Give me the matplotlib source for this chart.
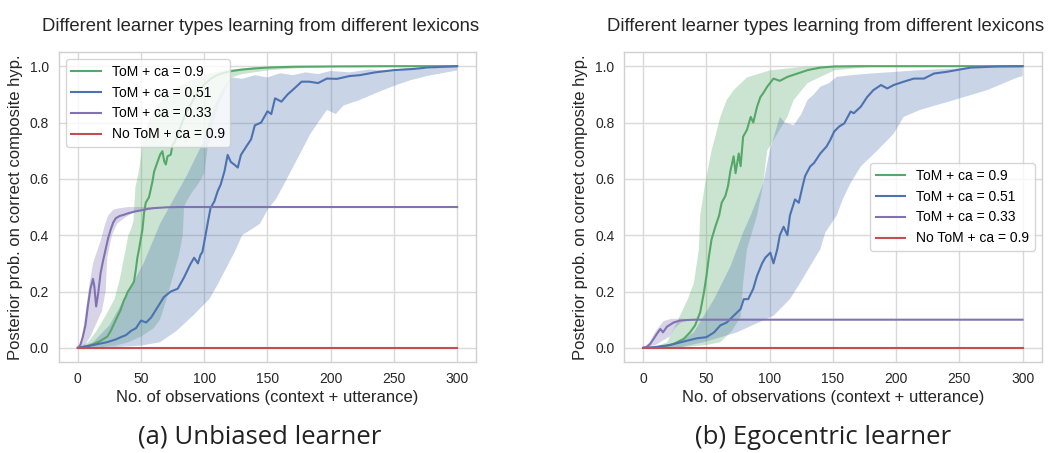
import numpy as np
import matplotlib
matplotlib.use("Agg")
import matplotlib.pyplot as plt

# ---------------------------------------------------------------
# Data: posterior probability on the correct composite hypothesis
# (mean and spread) against number of observations
# ---------------------------------------------------------------
labels = ["ToM + ca = 0.9", "ToM + ca = 0.51", "ToM + ca = 0.33", "No ToM + ca = 0.9"]

# ---- (a) Unbiased learner ----
a_green_x = [0, 4, 8, 12.7, 18, 23.3, 26, 28.6, 31.2, 33.9, 36.5, 37.8, 39.2, 41.8, 44.4, 45.8, 47.1,
             48.4, 51.1, 52.4, 53.7, 56.3, 59.0, 60.3, 63.0, 65.1, 66.9, 68.3, 69.6, 70.9, 73.5,
             74.9, 76.2, 80, 85, 90, 95, 100, 105, 110, 115, 122, 130, 140, 150, 170, 200, 250, 300]
a_green_y = [0, 0.002, 0.006, 0.014, 0.025, 0.040, 0.06, 0.085, 0.11, 0.135, 0.17, 0.18, 0.197, 0.215,
             0.235, 0.275, 0.32, 0.35, 0.42, 0.48, 0.515, 0.535, 0.59, 0.625, 0.66, 0.686, 0.698,
             0.663, 0.651, 0.68, 0.686, 0.721, 0.727, 0.77, 0.83, 0.87, 0.91, 0.935, 0.955, 0.968,
             0.976, 0.983, 0.988, 0.992, 0.995, 0.998, 0.999, 1.0, 1.0]
a_green_up_x = [0, 8, 14, 22, 29, 33, 37, 40, 42, 44, 45.5, 48, 50, 52, 56, 60, 65, 70, 77, 85, 95,
                105, 120, 140, 170, 300]
a_green_up_y = [0, 0.02, 0.055, 0.114, 0.173, 0.24, 0.33, 0.40, 0.42, 0.45, 0.57, 0.62, 0.68, 0.75,
                0.80, 0.84, 0.87, 0.895, 0.92, 0.94, 0.96, 0.975, 0.988, 0.996, 1.0, 1.0]
a_green_lo_x = [0, 20, 30, 40, 50, 60, 65, 70, 75, 80, 83, 84, 86, 90, 95, 100, 103, 107, 112, 118,
                122, 130, 150, 175, 200, 250, 300]
a_green_lo_y = [0, 0.003, 0.008, 0.02, 0.04, 0.07, 0.10, 0.17, 0.25, 0.33, 0.40, 0.50, 0.52, 0.55,
                0.58, 0.62, 0.72, 0.80, 0.87, 0.93, 0.96, 0.972, 0.985, 0.993, 0.997, 0.999, 1.0]

a_blue_x = [0, 5, 12, 23, 30, 34, 38, 42, 46, 50, 54, 58, 63, 68, 73.5, 79, 84, 89, 92, 95, 97,
            98.5, 101, 103, 105, 108, 110.6, 113, 116, 118.5, 121, 124, 126.5, 129, 134, 137, 140,
            145, 150, 153, 156, 161, 166, 171, 177, 183, 190, 197, 205, 215, 223, 235, 250, 265,
            276, 290, 300]
a_blue_y = [0, 0.004, 0.01, 0.02, 0.03, 0.038, 0.045, 0.06, 0.07, 0.097, 0.09, 0.108, 0.144, 0.18,
            0.2, 0.21, 0.25, 0.297, 0.32, 0.30, 0.33, 0.34, 0.40, 0.45, 0.497, 0.52, 0.556, 0.58,
            0.627, 0.685, 0.66, 0.65, 0.64, 0.685, 0.72, 0.74, 0.79, 0.80, 0.84, 0.83, 0.886, 0.874,
            0.90, 0.92, 0.945, 0.945, 0.94, 0.956, 0.955, 0.965, 0.968, 0.978, 0.986, 0.99, 0.995,
            0.998, 1.0]
a_blue_up_x = [0, 12, 25, 38, 52, 65, 76, 86, 99, 105, 110, 116, 122, 130, 140, 150, 160, 170, 180,
               190, 200, 215, 230, 245, 260, 275, 290, 300]
a_blue_up_y = [0, 0.02, 0.08, 0.185, 0.30, 0.44, 0.53, 0.61, 0.73, 0.82, 0.88, 0.93, 0.96, 0.955,
               0.968, 0.96, 0.975, 0.968, 0.978, 0.972, 0.983, 0.978, 0.988, 0.985, 0.993, 0.99,
               0.997, 1.0]
a_blue_lo_x = [0, 30, 50, 65, 78, 91, 104, 110, 117, 124, 130, 137, 144, 150, 157, 163, 170, 177,
               184, 190, 197, 204, 210, 223, 236, 250, 263, 276, 288, 300]
a_blue_lo_y = [0, 0.003, 0.008, 0.02, 0.06, 0.114, 0.173, 0.22, 0.28, 0.34, 0.40, 0.42, 0.44, 0.49,
               0.53, 0.58, 0.64, 0.70, 0.76, 0.80, 0.845, 0.83, 0.86, 0.88, 0.905, 0.93, 0.95,
               0.965, 0.975, 0.985]

a_purple_x = [0, 2, 4, 6, 8, 10, 12, 13, 14.5, 16, 18, 20, 22, 24, 26, 28, 30, 33, 36, 40, 45, 50,
              55, 60, 70, 80, 100, 300]
a_purple_y = [0, 0.01, 0.04, 0.08, 0.15, 0.21, 0.245, 0.22, 0.147, 0.19, 0.265, 0.31, 0.35, 0.39,
              0.42, 0.445, 0.46, 0.468, 0.472, 0.478, 0.484, 0.488, 0.493, 0.496, 0.499, 0.5, 0.5, 0.5]
a_purple_up_x = [0, 3, 6, 9, 12, 15, 18, 21, 24, 28, 32, 40, 60, 300]
a_purple_up_y = [0, 0.03, 0.12, 0.22, 0.30, 0.34, 0.38, 0.43, 0.47, 0.49, 0.495, 0.5, 0.5, 0.5]
a_purple_lo_x = [0, 5, 10, 15, 19, 22, 23.3, 27, 31, 36.5, 42, 50, 60, 80, 300]
a_purple_lo_y = [0, 0.005, 0.04, 0.09, 0.13, 0.20, 0.32, 0.40, 0.44, 0.46, 0.475, 0.49, 0.497, 0.5, 0.5]

a_red_x = [0, 300]
a_red_y = [0.0, 0.0]

# ---- (b) Egocentric learner ----
b_green_x = [0, 8, 16, 24, 32, 37, 41, 45, 48, 50, 52, 54, 57, 60, 62, 65, 67, 69, 71.5, 73, 75.5,
             77, 79, 82, 85, 87, 90, 92.6, 95, 98, 103, 108, 114, 122, 130, 140, 151, 170, 200, 300]
b_green_y = [0, 0.001, 0.005, 0.014, 0.032, 0.055, 0.08, 0.126, 0.197, 0.256, 0.326, 0.385, 0.43,
             0.47, 0.515, 0.54, 0.574, 0.63, 0.68, 0.62, 0.69, 0.645, 0.75, 0.774, 0.82, 0.80,
             0.856, 0.89, 0.905, 0.927, 0.956, 0.948, 0.962, 0.974, 0.986, 0.995, 0.999, 1.0, 1.0, 1.0]
b_green_up_x = [0, 10, 19, 29, 35, 40, 44, 45, 49, 54, 61, 66, 71.5, 82, 100, 127, 150, 300]
b_green_up_y = [0, 0.005, 0.02, 0.114, 0.17, 0.23, 0.35, 0.47, 0.585, 0.70, 0.82, 0.88, 0.915, 0.96,
                0.985, 0.998, 1.0, 1.0]
b_green_lo_x = [0, 30, 50, 61, 70, 77, 79, 82, 90, 95, 98, 106, 114, 119, 130, 151, 180, 300]
b_green_lo_y = [0, 0.002, 0.01, 0.02, 0.06, 0.11, 0.23, 0.35, 0.47, 0.585, 0.70, 0.76, 0.82, 0.88,
                0.94, 0.985, 0.998, 1.0]

b_blue_x = [0, 8, 21, 35, 42.5, 50, 56, 61, 66, 71.5, 77, 79.5, 83, 87, 90, 94, 96.5, 100.5, 103,
            106, 108, 111, 114, 116, 120, 123, 126, 128, 132, 135, 140, 145, 148, 151, 155, 159, 164,
            166.5, 172, 177, 182, 188, 193, 198, 206, 214, 222, 230, 240, 259, 280, 300]
b_blue_y = [0, 0.002, 0.01, 0.026, 0.034, 0.038, 0.055, 0.08, 0.09, 0.114, 0.138, 0.173, 0.173, 0.21,
            0.256, 0.30, 0.32, 0.338, 0.30, 0.35, 0.40, 0.43, 0.40, 0.47, 0.527, 0.515, 0.574, 0.61,
            0.644, 0.656, 0.69, 0.715, 0.739, 0.768, 0.786, 0.797, 0.839, 0.833, 0.856, 0.89, 0.915,
            0.933, 0.921, 0.933, 0.945, 0.956, 0.956, 0.974, 0.98, 0.995, 0.999, 1.0]
b_blue_up_x = [0, 16, 28, 40, 56, 69, 79, 85, 95, 100, 108, 112, 119, 125, 130, 135, 140, 147, 153,
               165, 180, 200, 219, 250, 272, 300]
b_blue_up_y = [0, 0.005, 0.02, 0.055, 0.173, 0.29, 0.41, 0.47, 0.585, 0.70, 0.82, 0.80, 0.79, 0.83,
               0.88, 0.90, 0.927, 0.94, 0.962, 0.968, 0.974, 0.98, 0.986, 0.992, 0.995, 1.0]
b_blue_lo_x = [0, 30, 48, 74, 103, 116, 124, 132, 140, 144, 153, 158, 164, 172, 185, 198, 206, 219,
               246, 272, 296, 300]
b_blue_lo_y = [0, 0.003, 0.02, 0.055, 0.114, 0.173, 0.23, 0.29, 0.35, 0.41, 0.47, 0.53, 0.585, 0.644,
               0.70, 0.76, 0.82, 0.845, 0.88, 0.915, 0.96, 0.965]

b_purple_x = [0, 3, 5.5, 8.2, 10.8, 13.5, 15.6, 18.7, 24, 29, 35, 40, 50, 300]
b_purple_y = [0, 0.004, 0.014, 0.032, 0.05, 0.067, 0.055, 0.075, 0.09, 0.097, 0.099, 0.1, 0.1, 0.1]
b_purple_up_x = [0, 5, 10, 16, 22, 30, 40, 60, 300]
b_purple_up_y = [0, 0.02, 0.06, 0.095, 0.103, 0.104, 0.101, 0.1, 0.1]
b_purple_lo_x = [0, 10, 15, 21, 25, 30, 35, 45, 300]
b_purple_lo_y = [0, 0.01, 0.025, 0.04, 0.07, 0.09, 0.097, 0.1, 0.1]

b_red_x = [0, 300]
b_red_y = [0.0, 0.0]

# ---------------------------------------------------------------
# Style
# ---------------------------------------------------------------
GREEN, BLUE, PURPLE, RED = "#55A868", "#4C72B0", "#8172B2", "#C44E52"
plt.rcParams["font.family"] = ["Liberation Sans", "DejaVu Sans"]

fig = plt.figure(figsize=(10.51, 4.53), dpi=100)
ax_a = fig.add_axes([0.056, 0.201, 0.397, 0.684])
ax_b = fig.add_axes([0.594, 0.201, 0.397, 0.684])


def band(ax, xu, yu, xl, yl, color):
    xs = np.r_[np.asarray(xu, float), np.asarray(xl, float)[::-1]]
    ys = np.r_[np.asarray(yu, float), np.asarray(yl, float)[::-1]]
    ax.fill(xs, ys, color=color, alpha=0.3, lw=0)


def panel(ax, d, legend_loc):
    band(ax, *d["green_band"], GREEN)
    band(ax, *d["blue_band"], BLUE)
    band(ax, *d["purple_band"], PURPLE)
    lines = []
    for (x, y), c, lab in zip(d["means"], [GREEN, BLUE, PURPLE, RED], labels):
        ln, = ax.plot(x, y, color=c, lw=1.5, label=lab)
        lines.append(ln)
    ax.set_xlim(-15, 315)
    ax.set_ylim(-0.05, 1.05)
    ax.set_xticks([0, 50, 100, 150, 200, 250, 300])
    ax.set_yticks([0.0, 0.2, 0.4, 0.6, 0.8, 1.0])
    ax.set_yticklabels(["0.0", "0.2", "0.4", "0.6", "0.8", "1.0"])
    ax.grid(True, color="#d9d9d9", lw=1.0)
    ax.set_axisbelow(True)
    for s in ax.spines.values():
        s.set_color("#d0d0d0")
        s.set_linewidth(1.0)
    ax.tick_params(length=0, labelsize=10, colors="#262626", pad=7)
    ax.set_title("Different learner types learning from different lexicons",
                 fontsize=13.3, color="#262626", pad=15, x=0.483)
    ax.set_xlabel("No. of observations (context + utterance)", fontsize=12, color="#262626",
                  labelpad=3)
    ax.set_ylabel("Posterior prob. on correct composite hyp.", fontsize=12, color="#262626",
                  labelpad=5)
    ax.legend(handles=lines, loc=legend_loc, fontsize=10, frameon=True,
              edgecolor="#cccccc", handlelength=2.1, labelspacing=0.5)


panel(ax_a, {
    "green_band": (a_green_up_x, a_green_up_y, a_green_lo_x, a_green_lo_y),
    "blue_band": (a_blue_up_x, a_blue_up_y, a_blue_lo_x, a_blue_lo_y),
    "purple_band": (a_purple_up_x, a_purple_up_y, a_purple_lo_x, a_purple_lo_y),
    "means": [(a_green_x, a_green_y), (a_blue_x, a_blue_y), (a_purple_x, a_purple_y),
              (a_red_x, a_red_y)],
}, "upper left")

panel(ax_b, {
    "green_band": (b_green_up_x, b_green_up_y, b_green_lo_x, b_green_lo_y),
    "blue_band": (b_blue_up_x, b_blue_up_y, b_blue_lo_x, b_blue_lo_y),
    "purple_band": (b_purple_up_x, b_purple_up_y, b_purple_lo_x, b_purple_lo_y),
    "means": [(b_green_x, b_green_y), (b_blue_x, b_blue_y), (b_purple_x, b_purple_y),
              (b_red_x, b_red_y)],
}, "center right")

fig.text(0.247, 0.02, "(a) Unbiased learner", ha="center", va="baseline",
         fontsize=18.5, family=["Open Sans", "DejaVu Sans"], color="#222222")
fig.text(0.783, 0.02, "(b) Egocentric learner", ha="center", va="baseline",
         fontsize=18.5, family=["Open Sans", "DejaVu Sans"], color="#222222")

fig.savefig("out.png", dpi=100)
